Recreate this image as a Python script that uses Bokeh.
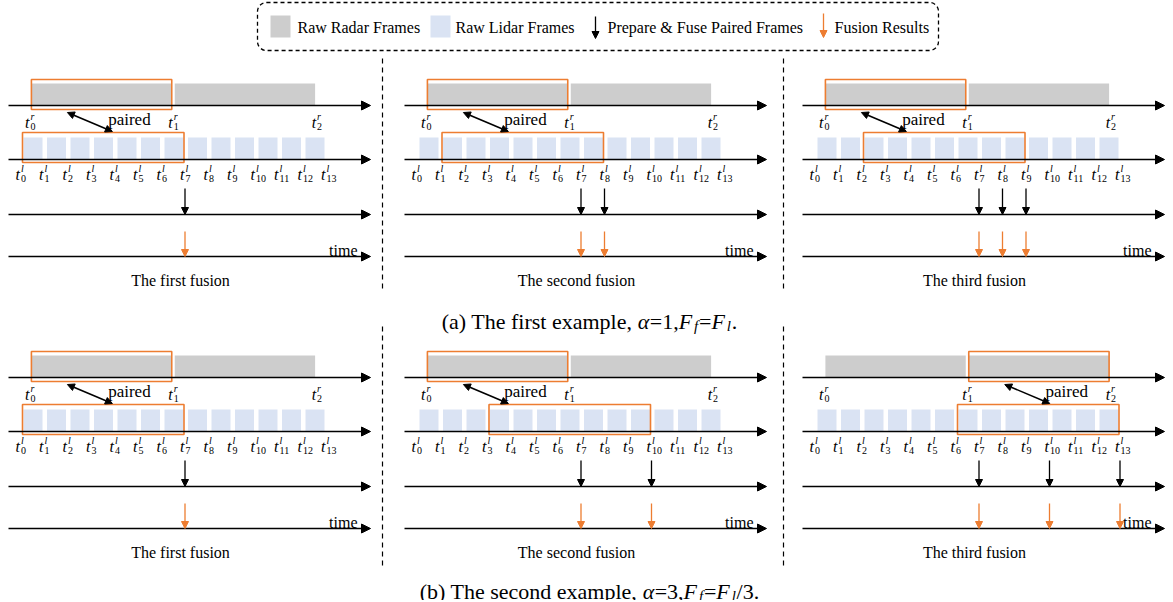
from bokeh.plotting import figure
from bokeh.models import Range1d, Arrow, NormalHead, ColumnDataSource, BoxAnnotation
from bokeh.embed import file_html
from bokeh.resources import INLINE
from bokeh.core.properties import value

# ---------------- data ----------------
lidar_frames = list(range(14))                 # t^l_0 .. t^l_13
radar_times = [0.4, 6.5, 12.6]                 # t^r_0 .. t^r_2 (in lidar-frame units)
rows = ["a", "b"]
radar_pair = {"a": [0, 0, 0], "b": [0, 0, 1]}
lidar_window = {"a": [(0, 7), (1, 8), (2, 9)], "b": [(0, 7), (3, 10), (6, 13)]}
fusion_frames = {"a": [[7], [7, 8], [7, 8, 9]], "b": [[7], [7, 10], [7, 10, 13]]}
panel_titles = ["The first fusion", "The second fusion", "The third fusion"]
legend_labels = ["Raw Radar Frames", "Raw Lidar Frames",
                 "Prepare & Fuse Paired Frames", "Fusion Results"]
caption_pieces = {
    "a": [("(a) The first example, ", "normal", 0), ("α", "italic", 0), ("=1,", "normal", 0),
          ("F", "italic", 0), ("f", "italic", 1), ("=", "normal", 0), ("F", "italic", 0),
          ("l", "italic", 1), (".", "normal", 0)],
    "b": [("(b) The second example, ", "normal", 0), ("α", "italic", 0), ("=3,", "normal", 0),
          ("F", "italic", 0), ("f", "italic", 1), ("=", "normal", 0), ("F", "italic", 0),
          ("l", "italic", 1), ("/3.", "normal", 0)],
}

# ---------------- style / layout ----------------
RADAR = "#CDCDCD"
LIDAR = "#DAE3F3"
ORANGE = "#ED7D31"
FONT = value("Liberation Serif")
PANEL_X = [0, 396, 794]
ROW_DY = {"a": 0, "b": 272}
U = 23.5
X0 = 20

W_N = {' ': 250, '(': 333, ')': 333, ',': 250, '.': 250, '/': 278, '=': 564, '&': 778,
       'a': 444, 'b': 500, 'c': 444, 'd': 500, 'e': 444, 'f': 333, 'h': 500, 'i': 278,
       'l': 278, 'm': 778, 'n': 500, 'o': 500, 'p': 500, 'r': 333, 's': 389, 't': 278,
       'u': 500, 'x': 500, 'T': 611, 'F': 556}
W_I = {'F': 700, 'f': 330, 'l': 330, 'α': 540}


def tw(s, size, style):
    tab = W_I if style == "italic" else W_N
    return sum(tab.get(c, 500) for c in s) * size / 1000.0


def xl(panel, t):
    return PANEL_X[panel] + X0 + U * t


p = figure(width=1165, height=600, x_range=Range1d(0, 1165), y_range=Range1d(600, 0),
           output_backend="svg", toolbar_location=None, min_border=0,
           x_axis_type=None, y_axis_type=None)
p.grid.visible = False
p.outline_line_color = None
p.background_fill_color = "white"
p.border_fill_color = "white"


def add_text(xs, ys, texts, size, style="normal", align="left", baseline="alphabetic", color="black"):
    src = ColumnDataSource(dict(x=xs, y=ys, text=texts))
    p.text(x="x", y="y", text="text", source=src, text_font=FONT, text_font_size=f"{size}px",
           text_font_style=style, text_align=align, text_baseline=baseline, text_color=color)


def add_arrows(x0, y0, x1, y1, color, width, size, both=False):
    src = ColumnDataSource(dict(x0=x0, y0=y0, x1=x1, y1=y1))
    head = lambda: NormalHead(size=size, fill_color=color, line_color=color, line_width=1)
    p.add_layout(Arrow(x_start="x0", y_start="y0", x_end="x1", y_end="y1", source=src,
                       line_color=color, line_width=width, end=head(),
                       start=head() if both else None))


rb = dict(l=[], r=[], t=[], b=[])     # radar bars
lb = dict(l=[], r=[], t=[], b=[])     # lidar bars
ob = dict(l=[], r=[], t=[], b=[])     # orange boxes
ax = dict(x0=[], y0=[], x1=[], y1=[])
fk = dict(x0=[], y0=[], x1=[], y1=[])
fo = dict(x0=[], y0=[], x1=[], y1=[])
pa = dict(x0=[], y0=[], x1=[], y1=[])
t_big = dict(x=[], y=[], text=[])
t_sup = dict(x=[], y=[], text=[])
t_sub = dict(x=[], y=[], text=[])
paired = dict(x=[], y=[], text=[])
times = dict(x=[], y=[], text=[])
titles = dict(x=[], y=[], text=[])

for row in rows:
    dy = ROW_DY[row]
    for pi in range(3):
        P = PANEL_X[pi]
        # radar bars
        radar_edges = []
        for k in range(len(radar_times) - 1):
            L = xl(pi, radar_times[k]) + 1.5
            R = xl(pi, radar_times[k + 1]) - 1.5
            radar_edges.append((L, R))
            rb["l"].append(L); rb["r"].append(R); rb["t"].append(83 + dy); rb["b"].append(105 + dy)
        # lidar bars
        for k in lidar_frames[:-1]:
            lb["l"].append(xl(pi, k) + 3); lb["r"].append(xl(pi, k + 1) - 1.5)
            lb["t"].append(137 + dy); lb["b"].append(159 + dy)
        # orange boxes
        L, R = radar_edges[radar_pair[row][pi]]
        ob["l"].append(L); ob["r"].append(R); ob["t"].append(79 + dy); ob["b"].append(109 + dy)
        a, b = lidar_window[row][pi]
        ob["l"].append(xl(pi, a) + 2); ob["r"].append(xl(pi, b) - 1)
        ob["t"].append(132 + dy); ob["b"].append(162 + dy)
        # paired arrow + text
        pa["x0"].append(L + 36); pa["y0"].append(112 + dy)
        pa["x1"].append(L + 81); pa["y1"].append(131 + dy)
        paired["x"].append(L + 98); paired["y"].append(119 + dy); paired["text"].append("paired")
        # axes
        for yy in (105, 159, 214, 256):
            ax["x0"].append(P + 8); ax["y0"].append(yy + dy)
            ax["x1"].append(P + 370); ax["y1"].append(yy + dy)
        # fusion arrows
        for t in fusion_frames[row][pi]:
            fk["x0"].append(xl(pi, t)); fk["y0"].append(188 + dy)
            fk["x1"].append(xl(pi, t)); fk["y1"].append(214 + dy)
            fo["x0"].append(xl(pi, t)); fo["y0"].append(231 + dy)
            fo["x1"].append(xl(pi, t)); fo["y1"].append(256 + dy)
        # tick labels
        for k, rt in enumerate(radar_times):
            x = xl(pi, rt)
            t_big["x"].append(x - 0.5); t_big["y"].append(122 + dy); t_big["text"].append("t")
            t_sup["x"].append(x + 0.5); t_sup["y"].append(116 + dy); t_sup["text"].append("r")
            t_sub["x"].append(x + 0.5); t_sub["y"].append(125.5 + dy); t_sub["text"].append(str(k))
        for k in lidar_frames:
            x = xl(pi, k)
            t_big["x"].append(x - 0.5); t_big["y"].append(174 + dy); t_big["text"].append("t")
            t_sup["x"].append(x + 0.5); t_sup["y"].append(167.5 + dy); t_sup["text"].append("l")
            t_sub["x"].append(x + 0.5); t_sub["y"].append(177.5 + dy); t_sub["text"].append(str(k))
        times["x"].append(P + 357); times["y"].append(250 + dy); times["text"].append("time")
        titles["x"].append(P + 180); titles["y"].append(280 + dy); titles["text"].append(panel_titles[pi])

p.quad(left=rb["l"], right=rb["r"], top=rb["t"], bottom=rb["b"], fill_color=RADAR, line_color=None)
p.quad(left=lb["l"], right=lb["r"], top=lb["t"], bottom=lb["b"], fill_color=LIDAR, line_color=None)
p.quad(left=ob["l"], right=ob["r"], top=ob["t"], bottom=ob["b"], fill_color=None,
       line_color=ORANGE, line_width=1.6)

add_arrows(ax["x0"], ax["y0"], ax["x1"], ax["y1"], "black", 1.6, 9)
add_arrows(fk["x0"], fk["y0"], fk["x1"], fk["y1"], "black", 1.3, 7)
add_arrows(fo["x0"], fo["y0"], fo["x1"], fo["y1"], ORANGE, 1.3, 7)
add_arrows(pa["x0"], pa["y0"], pa["x1"], pa["y1"], "black", 1.6, 7, both=True)

add_text(t_big["x"], t_big["y"], t_big["text"], 16, "italic", align="right")
add_text(t_sup["x"], t_sup["y"], t_sup["text"], 10, "italic")
add_text(t_sub["x"], t_sub["y"], t_sub["text"], 10)
add_text(paired["x"], paired["y"], paired["text"], 17, align="center", baseline="middle")
add_text(times["x"], times["y"], times["text"], 16, align="right")
add_text(titles["x"], titles["y"], titles["text"], 16, align="center", baseline="middle")

# separators
for sx in (382, 783):
    p.segment(x0=[sx, sx], y0=[58, 326], x1=[sx, sx], y1=[292, 566], line_color="black",
              line_width=1.2, line_dash="5 4")

# captions
CAP = 22
for row, base in (("a", 321), ("b", 591)):
    pieces = caption_pieces[row]
    widths = [tw(s, CAP * (0.68 if sub else 1), st) for s, st, sub in pieces]
    x = 589 - sum(widths) / 2
    for (s, st, sub), w in zip(pieces, widths):
        add_text([x], [base + (4 if sub else 0)], [s], round(CAP * (0.68 if sub else 1)), st)
        x += w

# legend
p.add_layout(BoxAnnotation(left=257, right=938, top=2, bottom=50, fill_alpha=0,
                           line_color="black", line_alpha=1, line_width=1.3, line_dash="4 3",
                           border_radius=9))
p.quad(left=[270, 430], right=[290, 450], top=[15, 15], bottom=[37, 37],
       fill_color=[RADAR, LIDAR], line_color=None)
add_arrows([595], [16], [595], [38], "black", 1.3, 7)
add_arrows([823], [13], [823], [37], ORANGE, 1.3, 7)
add_text([297, 455, 607, 834], [27, 27, 27, 27], legend_labels, 16, baseline="middle")

open("out.html", "w").write(file_html(p, INLINE))
